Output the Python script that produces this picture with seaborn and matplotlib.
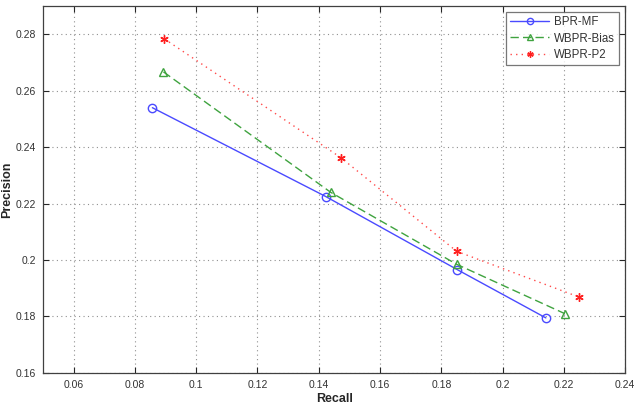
import matplotlib
matplotlib.use("Agg")
import matplotlib.pyplot as plt
import seaborn as sns
import pandas as pd

series_names = ["BPR-MF", "WBPR-Bias", "WBPR-P2"]
bpr_mf_recall = [0.0857, 0.1423, 0.1852, 0.2141]
bpr_mf_precision = [0.2540, 0.2225, 0.1966, 0.1795]
wbpr_bias_recall = [0.0893, 0.1439, 0.1850, 0.2203]
wbpr_bias_precision = [0.2667, 0.2240, 0.1985, 0.1810]
wbpr_p2_recall = [0.0896, 0.1472, 0.1850, 0.2249]
wbpr_p2_precision = [0.2784, 0.2363, 0.2031, 0.1869]
x_ticks = [0.06, 0.08, 0.1, 0.12, 0.14, 0.16, 0.18, 0.2, 0.22, 0.24]
y_ticks = [0.16, 0.18, 0.2, 0.22, 0.24, 0.26, 0.28]

sns.set_theme(style="white")
plt.rcParams["font.family"] = ["Liberation Sans", "DejaVu Sans"]

fig = plt.figure(figsize=(6.37, 4.08), dpi=100)
ax = fig.add_axes([0.0675, 0.086, 0.914, 0.899])

styles = [
    dict(color="#4a4aff", linestyle="-", marker="o", mfc="none", mec="#4a4aff", ms=6, lw=1.0),
    dict(color="#3fa33f", linestyle=(0, (6, 3)), marker="^", mfc="none", mec="#3fa33f", ms=6, lw=1.0),
    dict(color="#ff4a4a", linestyle=(0, (1, 3)), marker=(6, 2, 0), mfc="#ff2020", mec="#ff2020", ms=6, lw=1.0),
]
data = [
    (bpr_mf_recall, bpr_mf_precision),
    (wbpr_bias_recall, wbpr_bias_precision),
    (wbpr_p2_recall, wbpr_p2_precision),
]
for name, (xs, ys), st in zip(series_names, data, styles):
    df = pd.DataFrame({"Recall": xs, "Precision": ys})
    sns.lineplot(data=df, x="Recall", y="Precision", ax=ax, sort=False,
                 label=name, color=st["color"], linestyle=st["linestyle"],
                 marker=st["marker"], markerfacecolor=st["mfc"],
                 markeredgecolor=st["mec"], markersize=st["ms"], linewidth=st["lw"],
                 markeredgewidth=1.0)

ax.set_xlim(0.05, 0.24)
ax.set_ylim(0.16, 0.29)
ax.set_xticks(x_ticks)
ax.set_yticks(y_ticks)
ax.set_xticklabels([f"{v:g}" for v in x_ticks])
ax.set_yticklabels([f"{v:g}" for v in y_ticks])
ax.grid(True, linestyle=(0, (1, 3)), color="#909090", linewidth=0.8)
ax.tick_params(direction="in", length=4, width=0.8, labelsize=7.5, labelcolor="#333333",
               top=True, right=True, bottom=True, left=True, pad=5)
for sp in ax.spines.values():
    sp.set_visible(True)
    sp.set_color("#404040")
    sp.set_linewidth(0.9)
ax.set_xlabel("Recall", fontsize=9, fontweight="bold", labelpad=2)
ax.set_ylabel("Precision", fontsize=9, fontweight="bold")
ax.yaxis.set_label_coords(-0.051, 0.5)

leg = ax.legend(loc="upper right", fontsize=8.3, frameon=True, fancybox=False,
                edgecolor="#555555", borderpad=0.4, handlelength=3.4,
                labelspacing=0.35, borderaxespad=0.5, handletextpad=0.4)
leg.get_frame().set_linewidth(0.9)
for t in leg.get_texts():
    t.set_color("#333333")
for h in leg.legend_handles:
    h.set_markersize(4.5)

fig.savefig("out.png", dpi=100)
